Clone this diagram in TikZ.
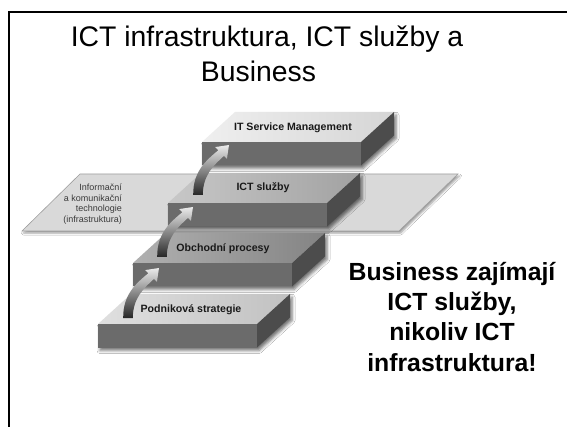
\documentclass[tikz,border=0pt]{standalone}
\usepackage{fontspec}
\setmainfont{Liberation Sans}
\usetikzlibrary{shadows.blur}

\definecolor{planefill}{HTML}{D9D9D9}
\definecolor{planeedge}{HTML}{9E9E9E}
\definecolor{stepfront}{HTML}{6B6B6B}
\definecolor{stepside}{HTML}{4C4C4C}
\definecolor{topA}{HTML}{E8E8E8}
\definecolor{topB}{HTML}{B0B0B0}
\definecolor{topC}{HTML}{8F8F8F}
\definecolor{topD}{HTML}{D2D2D2}
\definecolor{smalltext}{HTML}{3A3A3A}

% one step of the staircase: front top-left corner (#1,#2), colour of its top face #3
\newcommand\stepblock[3]{%
  \path[blur shadow={shadow xshift=2pt,shadow yshift=-3pt,shadow blur radius=3pt,shadow opacity=55}]
    (#1,#2) -- ++(159,0) -- ++(33,-30) -- ++(0,23.5) -- ++(-33,30) -- ++(-159,0) -- cycle;
  \shade[left color=#3!70!white, right color=#3!92!black]
    (#1,#2) -- ++(159,0) -- ++(33,-30) -- ++(-159,0) -- cycle;
  \fill[stepfront] (#1,#2) rectangle ++(159,23.5);
  \fill[stepside] ({#1+159},#2) -- ++(33,-30) -- ++(0,23.5) -- ++(-33,30) -- cycle;
}

% curved lift arrow, tail centred at (#1,#2)
\newcommand\liftarrow[2]{%
  \begin{scope}[shift={(#1,#2)}]
    \shade[top color=white!92!black, middle color=black!45, bottom color=black!85, shading angle=0]
      (-4.8,0) .. controls (-5.1,-24) and (8.7,-35) .. (20.3,-44.7)
      -- (17.1,-47.9) -- (31,-50) -- (28.9,-36.1) -- (25.9,-39.1)
      .. controls (16,-30) and (4.8,-20) .. (4.8,0) -- cycle;
  \end{scope}
}

\tikzset{
  frameline/.style={line width=1.5pt, black},
  titletext/.style={font=\fontsize{28.35}{34}\selectfont, anchor=base, inner sep=0pt},
  claimtext/.style={font=\fontsize{24.8}{30}\selectfont\bfseries, anchor=base, inner sep=0pt},
  steplabel/.style={font=\fontsize{10.6}{12}\selectfont\bfseries, text=black!90, inner sep=0pt},
  planelabel/.style={font=\fontsize{9}{10.5}\selectfont, text=smalltext, align=right, inner sep=0pt}
}

\begin{document}
\begin{tikzpicture}[x=1pt,y=-1pt]
\useasboundingbox (0,0) rectangle (567,427);
\fill[white] (0,0) rectangle (567,427);

% slide frame
\draw[frameline] (567,12) -- (9,12) -- (9,428);

% title
\node[titletext] (title1) at (267,47) {ICT infrastruktura, ICT služby a};
\node[titletext] (title2) at (258.5,82) {Business};

% infrastructure plane
\path[blur shadow={shadow xshift=1.5pt,shadow yshift=-2pt,shadow blur radius=2pt,shadow opacity=40}]
  (80,174) -- (458,174) -- (399,231) -- (22,231) -- cycle;
\filldraw[fill=planefill, draw=planeedge, line width=0.6pt]
  (80,174) -- (458,174) -- (399,231) -- (22,231) -- cycle;
\node[planelabel, anchor=north east] (infra) at (122,184)
  {Informační\\a komunikační\\technologie\\(infrastruktura)};

% staircase, back to front
\stepblock{202}{142}{topA}
\stepblock{168}{203}{topB}
\stepblock{133}{263}{topC}
\stepblock{98}{324}{topD}

% step labels
\node[steplabel] (itsm) at (293,128) {IT Service Management};
\node[steplabel] (ict) at (263,188) {ICT služby};
\node[steplabel] (proc) at (223,249) {Obchodní procesy};
\node[steplabel] (strat) at (191,310) {Podniková strategie};

% arrows between the steps
\liftarrow{128}{318}
\liftarrow{162}{257}
\liftarrow{198}{195}

% statement on the right
\node[claimtext] (claim1) at (452,281) {Business zajímají};
\node[claimtext] (claim2) at (452,311) {ICT služby,};
\node[claimtext] (claim3) at (452,341) {nikoliv ICT};
\node[claimtext] (claim4) at (452,371) {infrastruktura!};
\end{tikzpicture}
\end{document}
